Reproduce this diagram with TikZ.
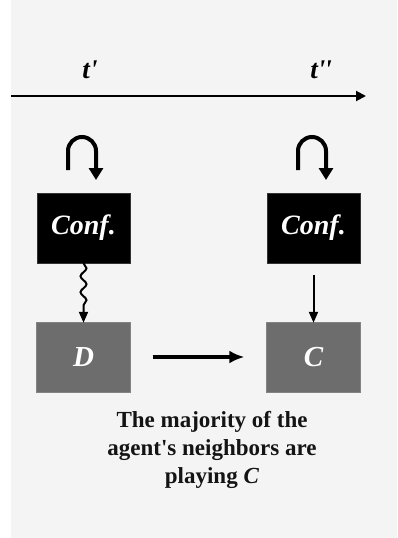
\documentclass[tikz,border=0pt]{standalone}
\usepackage{fontspec}
\setmainfont{Liberation Serif}
\usetikzlibrary{arrows.meta,decorations.pathmorphing}
\definecolor{bg}{HTML}{F4F4F4}
\definecolor{boxgray}{HTML}{6D6D6D}
\begin{document}
\begin{tikzpicture}[x=1pt,y=-1pt,
  confbox/.style={fill=black,draw=black!80,minimum width=93pt,minimum height=70pt,inner sep=0pt,text=white,font=\bfseries\itshape\fontsize{28}{30}\selectfont},
  statebox/.style={fill=boxgray,draw=boxgray!85!white,minimum width=94pt,minimum height=70pt,inner sep=0pt,text=white,font=\bfseries\itshape\fontsize{29}{30}\selectfont},
  timelabel/.style={font=\bfseries\itshape\fontsize{27}{28}\selectfont},
  loopline/.style={line width=4pt,-{Triangle[length=12pt,width=14pt]}},
  thinarrow/.style={line width=2pt,-{Triangle[length=11pt,width=9pt]}},
  thickarrow/.style={line width=4.5pt,-{Latex[length=15pt,width=13pt]}}
]
\useasboundingbox (0,0) rectangle (397,538);
\fill[bg] (11,0) rectangle (397,538);

% timeline
\coordinate (tstart) at (11,96);
\coordinate (tend) at (366,96);
\draw[line width=2pt,-{Triangle[length=10pt,width=10pt]}] (tstart) -- (tend);
\node[timelabel] (t1) at (90,70) {t\textquotesingle};
\node[timelabel] (t2) at (321,70) {t\textquotesingle\kern-1pt\textquotesingle};

% boxes
\node[confbox] (conf1) at (83.5,228) {Conf.};
\node[confbox] (conf2) at (313.5,228) {Conf.};
\node[statebox] (D) at (83.5,357) {D};
\node[statebox] (C) at (313.5,357) {C};

% loops
\coordinate (l1a) at (68,170);
\coordinate (l1b) at (96,180);
\draw[loopline] (l1a) -- (68,151) arc[start angle=180,end angle=360,radius=14] -- (l1b);
\coordinate (l2a) at (298,170);
\coordinate (l2b) at (326,180);
\draw[loopline] (l2a) -- (298,151) arc[start angle=180,end angle=360,radius=14] -- (l2b);

% vertical arrows
\draw[thinarrow,decorate,decoration={snake,amplitude=3pt,segment length=16pt,post length=12pt}]
  (conf1.south) -- ([yshift=-1pt]D.north);
\draw[thinarrow] ([yshift=-12pt]conf2.south) -- ([yshift=-1pt]C.north);

% horizontal arrow
\draw[thickarrow] ([xshift=22pt]D.east) -- ([xshift=-22pt]C.west);

% caption
\node[align=center,font=\bfseries\fontsize{23}{28}\selectfont,text=black!92] (cap) at (212,450)
  {The majority of the\\agent\textquotesingle s neighbors are\\playing \textit{C}};
\end{tikzpicture}
\end{document}
